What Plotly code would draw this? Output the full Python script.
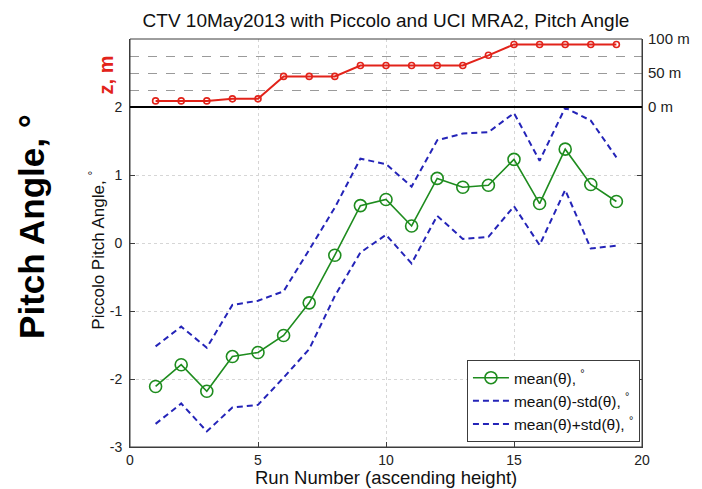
import plotly.graph_objects as go

# Run numbers (ascending height)
runs = list(range(1, 20))

# Piccolo pitch angle statistics per run (degrees)
mean_theta = [-2.11, -1.79, -2.18, -1.67, -1.61, -1.36, -0.88, -0.18, 0.55, 0.64,
              0.25, 0.95, 0.82, 0.85, 1.23, 0.58, 1.38, 0.86, 0.61]
mean_minus_std = [-2.66, -2.36, -2.77, -2.42, -2.38, -1.98, -1.56, -0.78, -0.14, 0.12,
                  -0.30, 0.40, 0.06, 0.09, 0.54, -0.03, 0.78, -0.08, -0.04]
mean_plus_std = [-1.52, -1.23, -1.54, -0.91, -0.85, -0.71, -0.10, 0.52, 1.24, 1.16,
                 0.83, 1.51, 1.61, 1.63, 1.91, 1.21, 1.99, 1.80, 1.26]

# Flight height of each run (m)
height_m = [9, 9, 9, 12, 12, 45, 45, 45, 61, 61, 61, 61, 61, 76, 92, 92, 92, 92, 92]

# Axis ticks
x_ticks = [0, 5, 10, 15, 20]
x_tick_text = ["0", "5", "10", "15", "20"]
y_ticks = [-3, -2, -1, 0, 1, 2]
y_tick_text = ["-3", "-2", "-1", "0", "1", "2"]
z_ticks = [0, 50, 100]
z_tick_text = ["0 m", "50 m", "100 m"]

FONT = "Liberation Sans, Arial, sans-serif"
GREEN = "#1e8c1e"
BLUE = "#2424b8"
RED = "#e2231a"
AXIS = "#3c3c3c"

fig = go.Figure()

fig.add_trace(go.Scatter(
    x=runs, y=mean_theta, mode="lines+markers",
    name="mean(θ), <sup>°</sup>",
    line=dict(color=GREEN, width=1.6),
    marker=dict(symbol="circle-open", size=12, color=GREEN, line=dict(width=1.6, color=GREEN)),
))
fig.add_trace(go.Scatter(
    x=runs, y=mean_minus_std, mode="lines",
    name="mean(θ)-std(θ), <sup>°</sup>",
    line=dict(color=BLUE, width=2, dash="6px,4px"),
))
fig.add_trace(go.Scatter(
    x=runs, y=mean_plus_std, mode="lines",
    name="mean(θ)+std(θ), <sup>°</sup>",
    line=dict(color=BLUE, width=2, dash="6px,4px"),
))
fig.add_trace(go.Scatter(
    x=runs, y=height_m, mode="lines+markers", yaxis="y2",
    showlegend=False,
    line=dict(color=RED, width=2),
    marker=dict(symbol="circle-open", size=6, color=RED, line=dict(width=1.6, color=RED)),
))

fig.update_layout(
    width=702, height=489,
    margin=dict(l=130, r=50, t=39, b=42),
    paper_bgcolor="white", plot_bgcolor="white",
    font=dict(family=FONT, size=14, color="#222222"),
    title=dict(
        text="CTV 10May2013 with Piccolo and UCI MRA2, Pitch Angle",
        x=0.5, xref="paper", xanchor="center",
        y=1 - 20 / 489, yref="container", yanchor="middle",
        font=dict(family=FONT, size=19, color="#111111"),
    ),
    xaxis=dict(
        range=[0, 20], tickvals=x_ticks, ticktext=x_tick_text,
        showgrid=True, gridcolor="#d6d6d6", griddash="dot", gridwidth=1,
        zeroline=False, showline=True, linecolor=AXIS, linewidth=1,
        ticks="inside", ticklen=5, tickcolor=AXIS,
        tickfont=dict(size=14, color="#222222"),
    ),
    yaxis=dict(
        domain=[0, 5 / 6], range=[-3, 2],
        tickvals=y_ticks, ticktext=y_tick_text,
        showgrid=True, gridcolor="#d6d6d6", griddash="dot", gridwidth=1,
        zeroline=False, showline=True, linecolor=AXIS, linewidth=1,
        mirror="ticks", ticks="inside", ticklen=5, tickcolor=AXIS,
        ticklabelstandoff=4,
        tickfont=dict(size=14, color="#222222"),
    ),
    yaxis2=dict(
        domain=[5 / 6, 1], range=[0, 100], anchor="x", side="right",
        tickvals=z_ticks, ticktext=z_tick_text,
        showgrid=True, gridcolor="#9a9a9a", griddash="dash", gridwidth=1,
        minor=dict(tick0=0, dtick=25, showgrid=True, gridcolor="#9a9a9a",
                   griddash="dash", gridwidth=1, ticks=""),
        zeroline=False, showline=True, linecolor=AXIS, linewidth=1,
        mirror=True, ticks="", ticklabelstandoff=2,
        tickfont=dict(size=15, color="#222222"),
    ),
    legend=dict(
        x=0.996, y=0.012, xanchor="right", yanchor="bottom",
        bgcolor="white", bordercolor=AXIS, borderwidth=1,
        font=dict(family=FONT, size=15.5, color="#111111"),
        tracegroupgap=0, itemwidth=36,
    ),
    showlegend=True,
)

# Frame around both panels and the 0 m / pitch 2 divider
fig.add_shape(type="rect", xref="paper", yref="paper", x0=0, x1=1, y0=0, y1=1,
              line=dict(color=AXIS, width=1), layer="above")
fig.add_shape(type="line", xref="paper", yref="paper", x0=0, x1=1, y0=5 / 6, y1=5 / 6,
              line=dict(color="black", width=2.2), layer="above")

# Axis titles
fig.add_annotation(text="Run Number (ascending height)", xref="paper", yref="paper",
                   x=0.5, y=(447 - 477) / 408, xanchor="center", yanchor="middle",
                   showarrow=False, font=dict(family=FONT, size=18.5, color="#111111"))
fig.add_annotation(text="Piccolo Pitch Angle, <sup>°</sup>", xref="paper", yref="paper",
                   x=(96 - 130) / 522, y=(447 - 250) / 408, textangle=-90,
                   xanchor="center", yanchor="middle", showarrow=False,
                   font=dict(family=FONT, size=17, color="#111111"))
fig.add_annotation(text="<b>Pitch Angle, °</b>", xref="paper", yref="paper",
                   x=(29 - 130) / 522, y=(447 - 226) / 408, textangle=-90,
                   xanchor="center", yanchor="middle", showarrow=False,
                   font=dict(family=FONT, size=35, color="black"))
fig.add_annotation(text="<b>z, m</b>", xref="paper", yref="paper",
                   x=(106 - 130) / 522, y=(447 - 75) / 408, textangle=-90,
                   xanchor="center", yanchor="middle", showarrow=False,
                   font=dict(family=FONT, size=20, color=RED))

fig.write_html("out.html")
